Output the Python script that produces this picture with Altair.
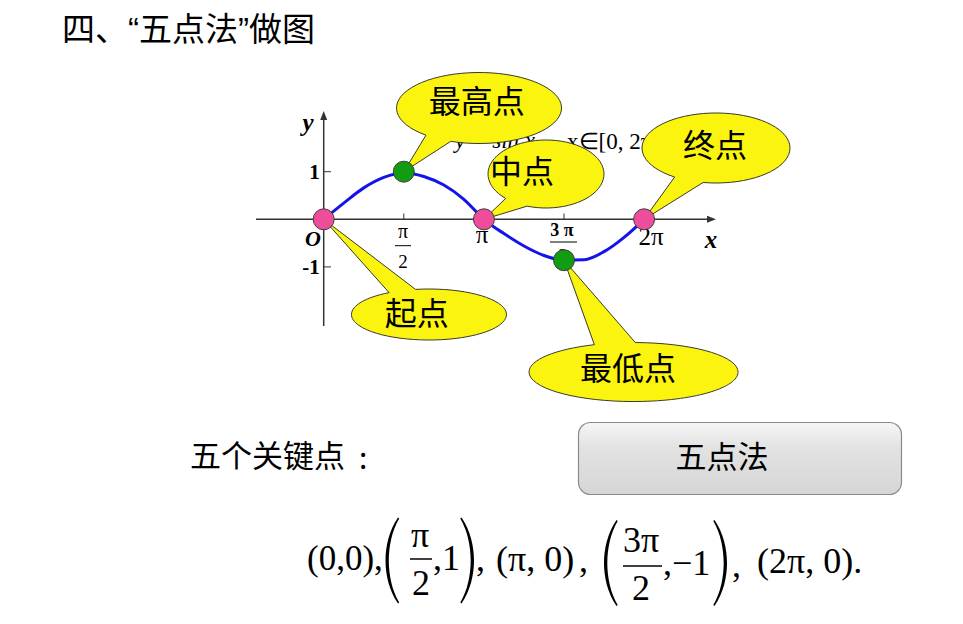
import math
import altair as alt
import pandas as pd

PI = math.pi

# ---------------- data ----------------
curve_steps = list(range(17))  # x = k * pi / 8
curve_y = [0.0, 0.34, 0.66, 0.88, 0.98, 0.90, 0.72, 0.42, 0.0,
           -0.30, -0.56, -0.76, -0.86, -0.85, -0.68, -0.38, 0.0]
key_x = [0.0, PI / 2, PI, 3 * PI / 2, 2 * PI]
key_y = [0.0, 1.0, 0.0, -0.86, 0.0]
key_kind = ["零点", "最值点", "零点", "最值点", "零点"]
callout_labels = ["起点", "最高点", "中点", "最低点", "终点"]
y_tick_values = [1, -1]
y_tick_labels = ["1", "-1"]
x_tick_values = [PI / 2, 3 * PI / 2]
title_text = "四、“五点法”做图"
func_text = ["y = sin x ,", "x∈[0, 2π]"]
list_label = "五个关键点"
button_label = "五点法"

# ---------------- layout / styles ----------------
MARGIN = 8
W, H = 947, 600
ORIGIN = (323.7, 219.3)      # page pixel of (0, 0)
KX = 80.1 / (PI / 2)         # px per radian
KY = 47.6                    # px per unit
X_DOMAIN = [(MARGIN - ORIGIN[0]) / KX, (MARGIN + W - ORIGIN[0]) / KX]
Y_DOMAIN = [(ORIGIN[1] - MARGIN - H) / KY, (ORIGIN[1] - MARGIN) / KY]
XS = alt.Scale(domain=X_DOMAIN, nice=False, zero=False)
YS = alt.Scale(domain=Y_DOMAIN, nice=False, zero=False)

YELLOW = "#fbf40e"
OUTLINE = "#3a3a2a"
PINK = "#ee4d9b"
GREEN = "#129c12"
BLUE = "#1414e8"
AXIS = "#333333"
CJK = "'Noto Sans CJK SC'"
SERIF = "'Liberation Serif'"


def px(v):
    return v - MARGIN


def X(field="x"):
    return alt.X(f"{field}:Q", scale=XS, axis=None)


def Y(field="y"):
    return alt.Y(f"{field}:Q", scale=YS, axis=None)


def one():
    return pd.DataFrame({"k": [0]})


def ptext(text, x, y, size, font=SERIF, align="left", baseline="alphabetic",
          style="normal", weight="normal", color="black"):
    return alt.Chart(one()).mark_text(
        text=text, align=align, baseline=baseline, font=font, fontSize=size,
        fontStyle=style, fontWeight=weight, color=color
    ).encode(x=alt.value(px(x)), y=alt.value(px(y)))


def hbar(x1, x2, y, w=1.5):
    return alt.Chart(one()).mark_rule(color="black", strokeWidth=w).encode(
        x=alt.value(px(x1)), x2=alt.value(px(x2)), y=alt.value(px(y)))


def shape_at(path, x, y, fill="black"):
    return alt.Chart(one()).mark_point(
        shape=path, size=4, filled=True, fill=fill, opacity=1, strokeWidth=0
    ).encode(x=alt.value(px(x)), y=alt.value(px(y)))


PAREN_L = ("M6,-43C-3,-30 -6.5,-14 -6.5,0C-6.5,14 -3,30 6,43L7.2,42"
           "C0,30 -3.2,14 -3.2,0C-3.2,-14 0,-30 7.2,-42Z")
PAREN_R = ("M-6,-43C3,-30 6.5,-14 6.5,0C6.5,14 3,30 -6,43L-7.2,42"
           "C0,30 3.2,14 3.2,0C3.2,-14 0,-30 -7.2,-42Z")


def bubble_path(cx, cy, rx, ry, a1, a2):
    t1, t2 = math.radians(a1), math.radians(a2)
    ax, ay = cx + rx * math.cos(t2), cy + ry * math.sin(t2)
    bx, by = cx + rx * math.cos(t1), cy + ry * math.sin(t1)
    return (f"M{ax:.2f},{ay:.2f}L0,0L{bx:.2f},{by:.2f}"
            f"A{rx:.2f},{ry:.2f} 0 1 0 {ax:.2f},{ay:.2f}Z")


# callout geometry relative to its key point: centre offset, radii, wedge angles, text offset
BUBBLES = {
    0: dict(c=(105.3, 95.2), r=(77.5, 25.5), a=(239, 260), t=(93, 96)),
    1: dict(c=(75.2, -63.7), r=(82.5, 35.5), a=(110, 130), t=(73, -69)),
    2: dict(c=(62.1, -45.3), r=(58, 34), a=(109, 134), t=(38, -46)),
    4: dict(c=(71.9, -71.3), r=(74, 35), a=(100, 124), t=(71, -72)),
    3: dict(c=(69.5, 111.8), r=(104.5, 29.5), a=(248, 271), t=(64, 110)),
}

layers = []

# function text (partly hidden behind the callouts)
layers.append(ptext(func_text[0], 455, 148, 23, style="italic"))
layers.append(ptext(func_text[1], 567, 149, 23))

# axes
layers.append(alt.Chart(pd.DataFrame({"y": [0]})).mark_rule(color=AXIS, strokeWidth=1.5).encode(
    x=alt.value(px(256)), x2=alt.value(px(708)), y=Y()))
layers.append(alt.Chart(pd.DataFrame({"x": [0]})).mark_rule(color=AXIS, strokeWidth=1.5).encode(
    x=X(), y=alt.value(px(119)), y2=alt.value(px(326))))
layers.append(alt.Chart(pd.DataFrame({"y": [0]})).mark_point(
    shape="M-9,-3.5L0,0L-9,3.5Z", size=4, filled=True, fill=AXIS, opacity=1, strokeWidth=0
).encode(x=alt.value(px(716)), y=Y()))
layers.append(alt.Chart(pd.DataFrame({"x": [0]})).mark_point(
    shape="M-3.5,9L0,0L3.5,9Z", size=4, filled=True, fill=AXIS, opacity=1, strokeWidth=0
).encode(x=X(), y=alt.value(px(111))))

# ticks
layers.append(alt.Chart(pd.DataFrame({"x": x_tick_values})).mark_rule(color=AXIS, strokeWidth=1).encode(
    x=X(), y=alt.value(px(213.5)), y2=alt.value(px(219.3))))
layers.append(alt.Chart(pd.DataFrame({"y": y_tick_values, "x": [0, 0]})).mark_rule(color=AXIS, strokeWidth=1).encode(
    x=X(), x2=alt.value(px(331)), y=Y()))
layers.append(alt.Chart(pd.DataFrame({"y": y_tick_values, "x": [0, 0], "t": y_tick_labels})).mark_text(
    align="right", baseline="middle", font=SERIF, fontSize=21, fontWeight="bold", dx=-4, dy=1
).encode(x=X(), y=Y(), text="t:N"))

# axis letters
layers.append(ptext("y", 308, 123, 25, align="center", baseline="middle", style="italic", weight="bold"))
layers.append(ptext("O", 313, 239, 22, align="center", baseline="middle", style="italic", weight="bold"))
layers.append(ptext("x", 711, 240, 25, align="center", baseline="middle", style="italic", weight="bold"))

# x tick labels
layers.append(ptext("π", 403, 232, 20, align="center", baseline="middle"))
layers.append(hbar(395, 411, 245.7, 1))
layers.append(ptext("2", 403, 262, 19, align="center", baseline="middle"))
layers.append(ptext("π", 482, 235, 25, align="center", baseline="middle"))
layers.append(ptext("3 π", 562, 231, 18, align="center", baseline="middle", weight="bold"))
layers.append(hbar(550, 577, 242, 1))
layers.append(ptext("2", 563, 257, 18, align="center", baseline="middle"))
layers.append(ptext("2π", 651, 237, 25, align="center", baseline="middle"))

# sine curve
curve = pd.DataFrame({"x": [k * PI / 8 for k in curve_steps], "y": curve_y})
layers.append(alt.Chart(curve).mark_line(color=BLUE, strokeWidth=3, interpolate="monotone").encode(
    x=X(), y=Y()))

# callouts
keys = pd.DataFrame({"x": key_x, "y": key_y, "kind": key_kind, "label": callout_labels})
for i in [0, 1, 2, 4, 3]:
    b = BUBBLES[i]
    path = bubble_path(b["c"][0], b["c"][1], b["r"][0], b["r"][1], b["a"][0], b["a"][1])
    layers.append(alt.Chart(keys.iloc[[i]]).mark_point(
        shape=path, size=4, filled=True, fill=YELLOW, stroke=OUTLINE, strokeWidth=1, opacity=1
    ).encode(x=X(), y=Y()))
for i in [0, 1, 2, 4, 3]:
    b = BUBBLES[i]
    layers.append(alt.Chart(keys.iloc[[i]]).mark_text(
        align="center", baseline="middle", font=CJK, fontSize=32, color="black",
        dx=b["t"][0], dy=b["t"][1]
    ).encode(x=X(), y=Y(), text="label:N"))

# key points
layers.append(alt.Chart(keys).mark_point(
    shape="circle", size=441, filled=True, opacity=1, stroke="#3d3d3d", strokeWidth=1
).encode(x=X(), y=Y(), color=alt.Color("kind:N", scale=alt.Scale(domain=["零点", "最值点"], range=[PINK, GREEN]), legend=None)))

# title
layers.append(ptext(title_text, 62, 31, 33, font="'Liberation Sans', " + CJK, baseline="middle"))

# key point list label
layers.append(ptext(list_label, 190, 458, 31, font=CJK, baseline="middle"))
layers.append(ptext(":", 359, 460, 30, font=CJK, baseline="middle"))

# button
grad = alt.LinearGradient(gradient="linear",
                          stops=[alt.GradientStop(color="#f6f6f6", offset=0),
                                 alt.GradientStop(color="#e2e2e2", offset=0.35),
                                 alt.GradientStop(color="#d6d6d6", offset=1)],
                          x1=0, x2=0, y1=0, y2=1)
layers.append(alt.Chart(one()).mark_rect(fill=grad, stroke="#8a8a8a", strokeWidth=1.2, cornerRadius=12).encode(
    x=alt.value(px(578.5)), x2=alt.value(px(901.5)), y=alt.value(px(422.5)), y2=alt.value(px(494.5))))
layers.append(ptext(button_label, 722, 459, 31, font=CJK, align="center", baseline="middle"))

# formula row
FS = 36
layers.append(ptext("(0,0),", 307, 570, 35))
layers.append(shape_at(PAREN_L, 392, 560.5))
layers.append(ptext("π", 420, 547, FS, align="center"))
layers.append(hbar(410, 432, 559))
layers.append(ptext("2", 421, 595, FS, align="center"))
layers.append(ptext(",1", 433, 570, FS))
layers.append(shape_at(PAREN_R, 467.5, 560.5))
layers.append(ptext(",", 476, 571, FS))
layers.append(ptext("(π, 0)", 496, 571, FS))
layers.append(ptext(",", 579, 572, FS))
layers.append(shape_at(PAREN_L, 610.5, 563))
layers.append(ptext("3π", 641, 552, FS, align="center"))
layers.append(hbar(623, 662, 566))
layers.append(ptext("2", 641, 600, FS, align="center"))
layers.append(ptext(",−1", 663, 575, FS))
layers.append(shape_at(PAREN_R, 720.5, 563))
layers.append(ptext(",", 732, 577, FS))
layers.append(ptext("(2π, 0).", 757, 573, FS))

chart = alt.layer(*layers).properties(
    width=W, height=H, padding=0,
    autosize=alt.AutoSizeParams(type="none"),
    background="white",
).configure_view(stroke="transparent")

chart.save("out.html", embed_options={"renderer": "svg", "actions": False})
